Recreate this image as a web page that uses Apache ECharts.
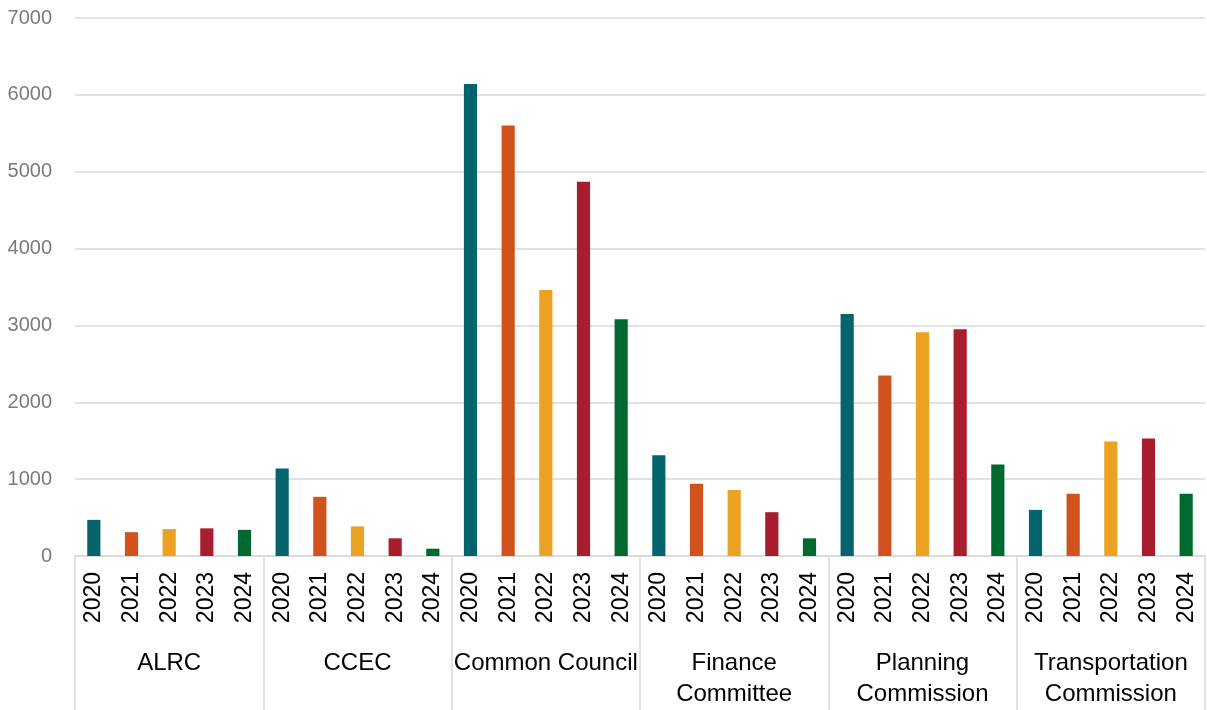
<!DOCTYPE html>
<html>
<head>
<meta charset="utf-8">
<script src="https://cdn.jsdelivr.net/npm/echarts@6/dist/echarts.min.js"></script>
<style>
  html, body { margin: 0; padding: 0; background: #ffffff; }
  #chart { width: 1207px; height: 710px; }
</style>
</head>
<body>
<div id="chart"></div>
<script>
// Committees (outer axis level) and years (inner axis level)
const committees = ['ALRC', 'CCEC', 'Common Council', 'Finance\nCommittee', 'Planning\nCommission', 'Transportation\nCommission'];
const years = ['2020', '2021', '2022', '2023', '2024'];

// Values per year, one entry per committee (same order as committees)
const v2020 = [470, 1140, 6140, 1310, 3150, 600];
const v2021 = [310, 770, 5600, 940, 2350, 810];
const v2022 = [350, 385, 3460, 860, 2910, 1490];
const v2023 = [360, 230, 4870, 570, 2950, 1530];
const v2024 = [340, 95, 3080, 230, 1190, 810];

// Value axis ticks
const yTicks = [0, 1000, 2000, 3000, 4000, 5000, 6000, 7000];

const yearColors = ['#05636B', '#D1521C', '#EBA121', '#A91E2E', '#006930'];
const byYear = [v2020, v2021, v2022, v2023, v2024];

// Flatten into one category per committee/year pair
const innerLabels = [];
const barData = [];
committees.forEach((c, ci) => {
  years.forEach((y, yi) => {
    innerLabels.push(y);
    barData.push({ value: byYear[yi][ci], itemStyle: { color: yearColors[yi] } });
  });
});

const gridLine = '#d9d9d9';
const font = 'Liberation Sans, Arial, sans-serif';

const chart = echarts.init(document.getElementById('chart'), null, { renderer: 'canvas' });
chart.setOption({
  animation: false,
  backgroundColor: '#ffffff',
  grid: { left: 75, right: 2, top: 18, bottom: 154, containLabel: false },
  xAxis: [
    {
      type: 'category',
      data: innerLabels,
      position: 'bottom',
      axisLine: { show: true, lineStyle: { color: gridLine, width: 1.5 } },
      axisTick: { show: false },
      axisLabel: {
        interval: 0,
        rotate: 90,
        margin: 16,
        fontFamily: font,
        fontSize: 23,
        color: '#000000'
      },
      splitLine: { show: false }
    },
    {
      type: 'category',
      data: committees,
      position: 'bottom',
      axisLine: { show: false },
      axisTick: { show: true, length: 154, lineStyle: { color: gridLine, width: 1.5 } },
      axisLabel: {
        interval: 0,
        margin: 92,
        fontFamily: font,
        fontSize: 24,
        lineHeight: 31,
        color: '#000000',
        verticalAlign: 'top'
      },
      splitLine: { show: false }
    }
  ],
  yAxis: {
    type: 'value',
    min: yTicks[0],
    max: yTicks[yTicks.length - 1],
    interval: yTicks[1] - yTicks[0],
    axisLine: { show: false },
    axisTick: { show: false },
    axisLabel: {
      margin: 23,
      fontFamily: font,
      fontSize: 20,
      color: '#7a7a7a',
      formatter: (v) => String(v)
    },
    splitLine: { show: true, lineStyle: { color: gridLine, width: 1.5 } }
  },
  series: [
    {
      type: 'bar',
      xAxisIndex: 0,
      data: barData,
      barWidth: '35%'
    }
  ]
});
</script>
</body>
</html>
